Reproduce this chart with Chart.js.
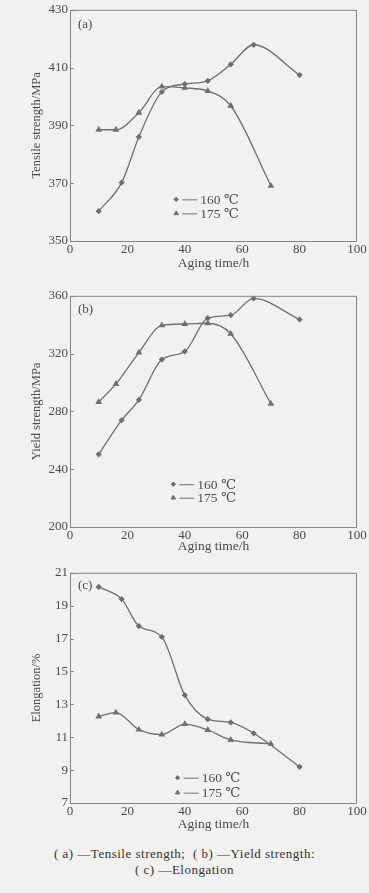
<!DOCTYPE html>
<html>
<head>
<meta charset="utf-8">
<script src="https://cdn.jsdelivr.net/npm/chart.js@4.4.1/dist/chart.umd.min.js"></script>
<style>
  html, body { margin: 0; padding: 0; background: #f1f1ef; }
  #page { position: relative; width: 369px; height: 893px; overflow: hidden; }
  .panel { position: absolute; left: 0; width: 369px; }
  .caption { position: absolute; left: 0; width: 369px; text-align: center;
             font-family: "Liberation Serif", serif; font-size: 13px; letter-spacing: 0.5px;
             color: #333; white-space: pre; }
</style>
</head>
<body>
<div id="page">
  <div class="panel" id="pa"><canvas id="cA"></canvas></div>
  <div class="panel" id="pb"><canvas id="cB"></canvas></div>
  <div class="panel" id="pc"><canvas id="cC"></canvas></div>
  <div class="caption" style="top:846px">( a) —Tensile strength;  ( b) —Yield strength:</div>
  <div class="caption" style="top:862px">( c) —Elongation</div>
</div>
<script>
/* ---- data ---- */
const hours160 = [10, 18, 24, 32, 40, 48, 56, 64, 80];
const hours175 = [10, 16, 24, 32, 40, 48, 56, 70];

const tensile160 = [360.3, 370.2, 386.0, 401.6, 404.3, 405.4, 411.1, 417.9, 407.4];
const tensile175 = [388.5, 388.5, 394.4, 403.4, 403.0, 401.9, 396.8, 369.1];

const yield160 = [250.3, 273.9, 288.0, 315.9, 321.5, 344.5, 346.6, 358.2, 343.6];
const yield175 = [286.4, 299.0, 320.7, 339.5, 340.5, 341.0, 333.7, 285.3];

const elong160 = [20.14, 19.4, 17.76, 17.1, 13.56, 12.1, 11.9, 11.24, 9.2];
const elong175 = [12.26, 12.5, 11.46, 11.16, 11.8, 11.44, 10.84, 10.6];

const seriesLabels = ["160 ℃", "175 ℃"];
const xTitle = "Aging time/h";

/* ---- look ---- */
const INK = "#6f6f6f";      // curves + markers
const FRAME = "#858585";
const TEXT = "#4a4a4a";
const SERIF = '"Liberation Serif", "DejaVu Serif", serif';

const pts = (xs, ys) => xs.map((x, i) => ({x, y: ys[i]}));

// box frame, inward y ticks, panel letter, in-plot legend
const decor = {
  id: "decor",
  afterDraw(chart, args, o) {
    const {ctx, chartArea: a, scales: {y}} = chart;
    ctx.save();
    ctx.strokeStyle = FRAME; ctx.lineWidth = 1;
    ctx.beginPath();
    ctx.rect(a.left + 0.5, a.top + 0.5, a.right - a.left - 1, a.bottom - a.top);
    y.ticks.forEach(t => {
      const py = Math.round(y.getPixelForValue(t.value)) + 0.5;
      ctx.moveTo(a.left, py); ctx.lineTo(a.left + 4, py);
    });
    ctx.stroke();

    ctx.fillStyle = TEXT;
    ctx.font = "13px " + SERIF;
    ctx.textBaseline = "middle";
    ctx.fillText(o.letter, a.left + 8, a.top + o.letterDy);

    // legend: marker — label
    const lx = a.left + (a.right - a.left) * o.lx;
    chart.data.datasets.forEach((ds, i) => {
      const ly = a.top + (a.bottom - a.top) * o.ly + i * o.gap;
      ctx.fillStyle = INK; ctx.strokeStyle = INK;
      Chart.helpers.drawPoint(ctx, {pointStyle: ds.pointStyle, radius: ds.pointRadius, borderWidth: 1, rotation: 0}, lx, ly);
      ctx.beginPath();
      ctx.lineWidth = 1;
      ctx.moveTo(lx + 6, ly + 0.5); ctx.lineTo(lx + 21, ly + 0.5);
      ctx.stroke();
      ctx.fillStyle = TEXT;
      ctx.font = "13.5px " + SERIF;
      ctx.fillText(ds.label, lx + 24, ly + 1);
    });
    ctx.restore();
  }
};

function panel(divId, canvasId, L) {
  const top = L.plotTop - 7, bottom = L.titleY + 11;
  const div = document.getElementById(divId);
  div.style.top = top + "px";
  div.style.height = (bottom - top) + "px";
  const cv = document.getElementById(canvasId);
  cv.width = 369; cv.height = bottom - top;

  const line = (label, data, style, r) => ({
    label, data, pointStyle: style, pointRadius: r, pointHoverRadius: r,
    borderColor: INK, backgroundColor: INK, pointBackgroundColor: INK,
    borderWidth: 1.3, cubicInterpolationMode: "monotone", fill: false
  });

  return new Chart(cv, {
    type: "line",
    data: {datasets: [
      line(seriesLabels[0], L.s160, "rectRot", 2.2),
      line(seriesLabels[1], L.s175, "triangle", 2.6)
    ]},
    options: {
      responsive: false, animation: false,
      layout: {padding: {left: 29, right: 12, top: 7, bottom: 0}},
      plugins: {legend: {display: false}, tooltip: {enabled: false},
        decor: {letter: L.letter, letterDy: L.letterDy, lx: L.lx, ly: L.ly, gap: L.gap}},
      scales: {
        x: {type: "linear", min: 0, max: 100,
          ticks: {stepSize: 20, padding: 1, color: TEXT, font: {family: SERIF, size: 13}},
          grid: {display: false, drawTicks: false}, border: {display: false},
          title: {display: true, text: xTitle, color: TEXT, font: {family: SERIF, size: 13.5}, padding: {top: 0, bottom: 3}},
          afterFit: s => { s.height = bottom - L.plotBottom; }},
        y: {min: L.min, max: L.max,
          ticks: {stepSize: L.step, padding: 2, color: TEXT, font: {family: SERIF, size: 13}},
          grid: {display: false, drawTicks: false}, border: {display: false},
          title: {display: true, text: L.yTitle, color: TEXT, font: {family: SERIF, size: 12.5}, padding: 0},
          afterFit: s => { s.width = 41; }}
      }
    },
    plugins: [decor]
  });
}

panel("pa", "cA", {plotTop: 7, plotBottom: 241, titleY: 264, min: 350, max: 430, step: 20,
  yTitle: "Tensile strength/MPa", letter: "(a)", letterDy: 15, lx: 0.37, ly: 0.82, gap: 14,
  s160: pts(hours160, tensile160), s175: pts(hours175, tensile175)});

panel("pb", "cB", {plotTop: 293, plotBottom: 527, titleY: 547, min: 200, max: 360, step: 40,
  yTitle: "Yield strength/MPa", letter: "(b)", letterDy: 14, lx: 0.36, ly: 0.815, gap: 13.5,
  s160: pts(hours160, yield160), s175: pts(hours175, yield175)});

panel("pc", "cC", {plotTop: 570, plotBottom: 803, titleY: 825, min: 7, max: 21, step: 2,
  yTitle: "Elongation/%", letter: "(c)", letterDy: 13, lx: 0.375, ly: 0.89, gap: 15,
  s160: pts(hours160, elong160), s175: pts(hours175, elong175)});
</script>
</body>
</html>
